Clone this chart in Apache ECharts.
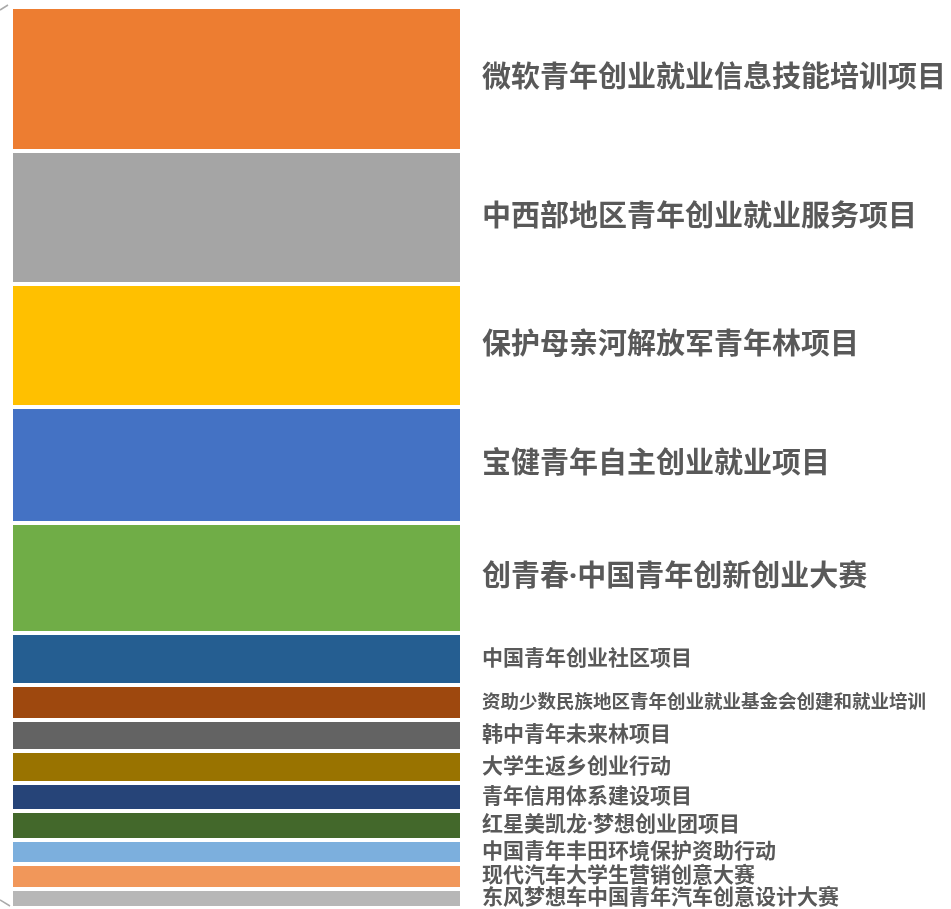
<!DOCTYPE html>
<html><head><meta charset="utf-8">
<script src="https://cdn.jsdelivr.net/npm/echarts@6/dist/echarts.min.js"></script>
<style>html,body{margin:0;padding:0;background:#fff}#c{width:951px;height:909px}</style>
</head><body><div id="c"></div>
<script>
const projects = ['微软青年创业就业信息技能培训项目','中西部地区青年创业就业服务项目','保护母亲河解放军青年林项目','宝健青年自主创业就业项目','创青春·中国青年创新创业大赛','中国青年创业社区项目','资助少数民族地区青年创业就业基金会创建和就业培训','韩中青年未来林项目','大学生返乡创业行动','青年信用体系建设项目','红星美凯龙·梦想创业团项目','中国青年丰田环境保护资助行动','现代汽车大学生营销创意大赛','东风梦想车中国青年汽车创意设计大赛'];
const values = [144,133,123,116,110,52,35,31,32,28,29,24,25,19];
const colors = ['#ED7D31','#A5A5A5','#FFC000','#4472C4','#70AD47','#255E91','#9E480E','#636363','#997300','#264478','#43682B','#7CAFDD','#F1975A','#B7B7B7'];
const labelSizes = [29,29,29,29,29,21,18.5,21,21,21,21,21,21,21];
const total = values.reduce((a,b)=>a+b,0);
const chart = echarts.init(document.getElementById('c'));
chart.setOption({
  animation:false,
  grid:{left:11,right:489,top:7,bottom:1},
  xAxis:{type:'category',data:['项目'],show:false},
  yAxis:{type:'value',inverse:true,min:0,max:total,show:false},
  series: projects.map((name,i)=>({
    name:name,type:'bar',stack:'all',barWidth:'100%',
    data:[values[i]],
    itemStyle:{color:colors[i],borderColor:'#fff',borderWidth:2},
    label:{show:true,position:'right',distance:20,formatter:name,
      color:'#595959',fontWeight:'bold',fontSize:labelSizes[i],
      fontFamily:'"Noto Sans", "Noto Sans CJK SC", sans-serif'}
  })),
  graphic:[
    {type:'line',shape:{x1:0,y1:10,x2:8,y2:5},style:{stroke:'#aaa',lineWidth:1.5}},
    {type:'line',shape:{x1:0,y1:900,x2:10,y2:906},style:{stroke:'#aaa',lineWidth:1.5}}
  ]
});
</script></body></html>
